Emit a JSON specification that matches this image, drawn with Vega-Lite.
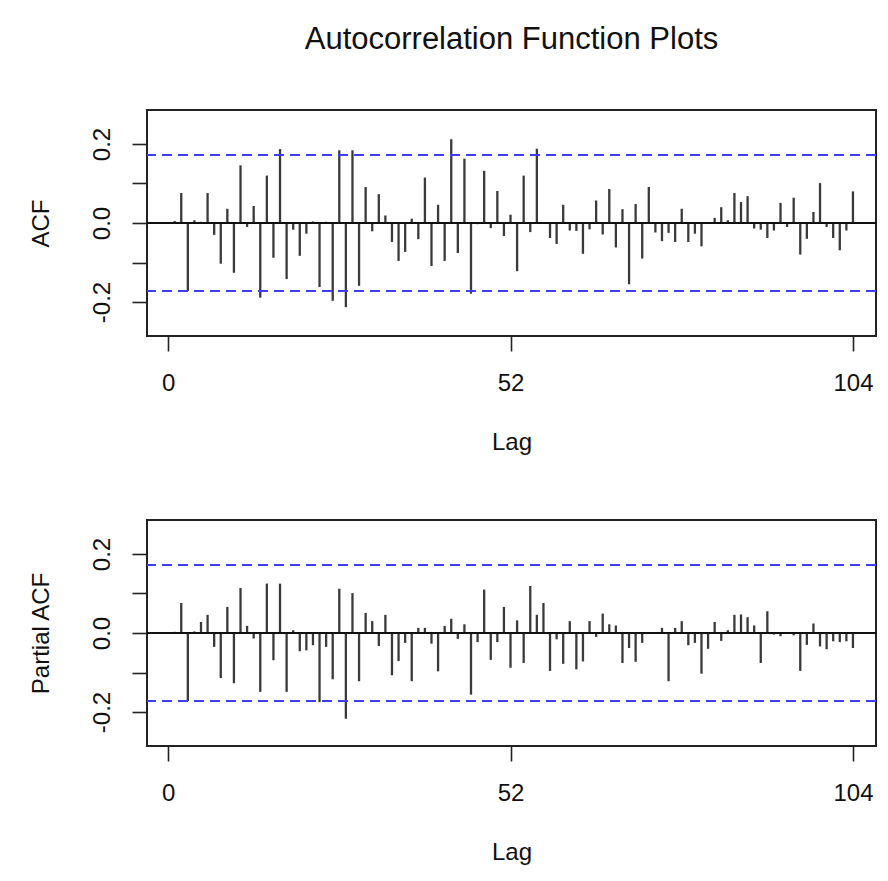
{
  "$schema": "https://vega.github.io/schema/vega-lite/v6.json",
  "background": "white",
  "padding": {"left": 28, "top": 23, "right": 13, "bottom": 5},
  "spacing": 64,
  "config": {
    "font": "Liberation Sans",
    "view": {"stroke": "#222", "strokeWidth": 2},
    "axis": {
      "grid": false,
      "domain": false,
      "tickColor": "#222",
      "tickWidth": 1.6,
      "tickSize": 15,
      "labelFont": "Liberation Sans",
      "labelFontSize": 24,
      "labelColor": "#111",
      "labelOverlap": false,
      "labelFlush": false,
      "labelBound": false,
      "titleFont": "Liberation Sans",
      "titleFontSize": 24,
      "titleFontWeight": "normal",
      "titleColor": "#111"
    }
  },
  "datasets": {
    "acf": [
      {"lag": 1, "v": 0.005}, {"lag": 2, "v": 0.076}, {"lag": 3, "v": -0.172}, {"lag": 4, "v": 0.007},
      {"lag": 5, "v": 0.003}, {"lag": 6, "v": 0.076}, {"lag": 7, "v": -0.03}, {"lag": 8, "v": -0.103},
      {"lag": 9, "v": 0.036}, {"lag": 10, "v": -0.126}, {"lag": 11, "v": 0.146}, {"lag": 12, "v": -0.01},
      {"lag": 13, "v": 0.043}, {"lag": 14, "v": -0.189}, {"lag": 15, "v": 0.12}, {"lag": 16, "v": -0.088},
      {"lag": 17, "v": 0.187}, {"lag": 18, "v": -0.142}, {"lag": 19, "v": -0.017}, {"lag": 20, "v": -0.083},
      {"lag": 21, "v": -0.027}, {"lag": 22, "v": 0.004}, {"lag": 23, "v": -0.162}, {"lag": 24, "v": 0.003},
      {"lag": 25, "v": -0.197}, {"lag": 26, "v": 0.184}, {"lag": 27, "v": -0.213}, {"lag": 28, "v": 0.184},
      {"lag": 29, "v": -0.159}, {"lag": 30, "v": 0.091}, {"lag": 31, "v": -0.021}, {"lag": 32, "v": 0.073},
      {"lag": 33, "v": 0.019}, {"lag": 34, "v": -0.048}, {"lag": 35, "v": -0.096}, {"lag": 36, "v": -0.073},
      {"lag": 37, "v": 0.011}, {"lag": 38, "v": -0.041}, {"lag": 39, "v": 0.115}, {"lag": 40, "v": -0.109},
      {"lag": 41, "v": 0.046}, {"lag": 42, "v": -0.096}, {"lag": 43, "v": 0.212}, {"lag": 44, "v": -0.076},
      {"lag": 45, "v": 0.163}, {"lag": 46, "v": -0.179}, {"lag": 47, "v": -0.003}, {"lag": 48, "v": 0.132},
      {"lag": 49, "v": -0.013}, {"lag": 50, "v": 0.081}, {"lag": 51, "v": -0.033}, {"lag": 52, "v": 0.021},
      {"lag": 53, "v": -0.122}, {"lag": 54, "v": 0.12}, {"lag": 55, "v": -0.023}, {"lag": 56, "v": 0.188},
      {"lag": 57, "v": -0.002}, {"lag": 58, "v": -0.038}, {"lag": 59, "v": -0.053}, {"lag": 60, "v": 0.046},
      {"lag": 61, "v": -0.019}, {"lag": 62, "v": -0.02}, {"lag": 63, "v": -0.078}, {"lag": 64, "v": -0.016},
      {"lag": 65, "v": 0.057}, {"lag": 66, "v": -0.029}, {"lag": 67, "v": 0.086}, {"lag": 68, "v": -0.062},
      {"lag": 69, "v": 0.035}, {"lag": 70, "v": -0.155}, {"lag": 71, "v": 0.048}, {"lag": 72, "v": -0.09},
      {"lag": 73, "v": 0.091}, {"lag": 74, "v": -0.024}, {"lag": 75, "v": -0.046}, {"lag": 76, "v": -0.025},
      {"lag": 77, "v": -0.048}, {"lag": 78, "v": 0.036}, {"lag": 79, "v": -0.048}, {"lag": 80, "v": -0.027},
      {"lag": 81, "v": -0.059}, {"lag": 82, "v": 0.002}, {"lag": 83, "v": 0.013}, {"lag": 84, "v": 0.04},
      {"lag": 85, "v": 0.007}, {"lag": 86, "v": 0.076}, {"lag": 87, "v": 0.053}, {"lag": 88, "v": 0.068},
      {"lag": 89, "v": -0.014}, {"lag": 90, "v": -0.017}, {"lag": 91, "v": -0.038}, {"lag": 92, "v": -0.019},
      {"lag": 93, "v": 0.051}, {"lag": 94, "v": -0.01}, {"lag": 95, "v": 0.064}, {"lag": 96, "v": -0.08},
      {"lag": 97, "v": -0.04}, {"lag": 98, "v": 0.028}, {"lag": 99, "v": 0.101}, {"lag": 100, "v": -0.01},
      {"lag": 101, "v": -0.038}, {"lag": 102, "v": -0.069}, {"lag": 103, "v": -0.019}, {"lag": 104, "v": 0.08}
    ],
    "pacf": [
      {"lag": 1, "v": 0.003}, {"lag": 2, "v": 0.076}, {"lag": 3, "v": -0.172}, {"lag": 4, "v": 0.004},
      {"lag": 5, "v": 0.028}, {"lag": 6, "v": 0.046}, {"lag": 7, "v": -0.035}, {"lag": 8, "v": -0.114},
      {"lag": 9, "v": 0.066}, {"lag": 10, "v": -0.127}, {"lag": 11, "v": 0.114}, {"lag": 12, "v": 0.018},
      {"lag": 13, "v": -0.014}, {"lag": 14, "v": -0.149}, {"lag": 15, "v": 0.125}, {"lag": 16, "v": -0.069},
      {"lag": 17, "v": 0.125}, {"lag": 18, "v": -0.149}, {"lag": 19, "v": 0.007}, {"lag": 20, "v": -0.046},
      {"lag": 21, "v": -0.044}, {"lag": 22, "v": -0.031}, {"lag": 23, "v": -0.175}, {"lag": 24, "v": -0.035},
      {"lag": 25, "v": -0.117}, {"lag": 26, "v": 0.112}, {"lag": 27, "v": -0.217}, {"lag": 28, "v": 0.101},
      {"lag": 29, "v": -0.122}, {"lag": 30, "v": 0.051}, {"lag": 31, "v": 0.03}, {"lag": 32, "v": -0.033},
      {"lag": 33, "v": 0.046}, {"lag": 34, "v": -0.107}, {"lag": 35, "v": -0.071}, {"lag": 36, "v": -0.025},
      {"lag": 37, "v": -0.122}, {"lag": 38, "v": 0.013}, {"lag": 39, "v": 0.013}, {"lag": 40, "v": -0.027},
      {"lag": 41, "v": -0.097}, {"lag": 42, "v": 0.018}, {"lag": 43, "v": 0.036}, {"lag": 44, "v": -0.015},
      {"lag": 45, "v": 0.022}, {"lag": 46, "v": -0.156}, {"lag": 47, "v": -0.023}, {"lag": 48, "v": 0.11},
      {"lag": 49, "v": -0.068}, {"lag": 50, "v": -0.023}, {"lag": 51, "v": 0.066}, {"lag": 52, "v": -0.088},
      {"lag": 53, "v": 0.032}, {"lag": 54, "v": -0.076}, {"lag": 55, "v": 0.119}, {"lag": 56, "v": 0.046},
      {"lag": 57, "v": 0.076}, {"lag": 58, "v": -0.096}, {"lag": 59, "v": -0.016}, {"lag": 60, "v": -0.078},
      {"lag": 61, "v": 0.03}, {"lag": 62, "v": -0.092}, {"lag": 63, "v": -0.072}, {"lag": 64, "v": 0.03},
      {"lag": 65, "v": -0.01}, {"lag": 66, "v": 0.049}, {"lag": 67, "v": 0.022}, {"lag": 68, "v": 0.019},
      {"lag": 69, "v": -0.076}, {"lag": 70, "v": -0.038}, {"lag": 71, "v": -0.073}, {"lag": 72, "v": -0.025},
      {"lag": 73, "v": 0.002}, {"lag": 74, "v": -0.002}, {"lag": 75, "v": 0.013}, {"lag": 76, "v": -0.122},
      {"lag": 77, "v": 0.013}, {"lag": 78, "v": 0.03}, {"lag": 79, "v": -0.031}, {"lag": 80, "v": -0.025},
      {"lag": 81, "v": -0.103}, {"lag": 82, "v": -0.04}, {"lag": 83, "v": 0.028}, {"lag": 84, "v": -0.02},
      {"lag": 85, "v": 0.007}, {"lag": 86, "v": 0.046}, {"lag": 87, "v": 0.047}, {"lag": 88, "v": 0.04},
      {"lag": 89, "v": 0.019}, {"lag": 90, "v": -0.076}, {"lag": 91, "v": 0.055}, {"lag": 92, "v": -0.004},
      {"lag": 93, "v": -0.008}, {"lag": 94, "v": -0.002}, {"lag": 95, "v": -0.006}, {"lag": 96, "v": -0.096},
      {"lag": 97, "v": -0.03}, {"lag": 98, "v": 0.024}, {"lag": 99, "v": -0.034}, {"lag": 100, "v": -0.041},
      {"lag": 101, "v": -0.021}, {"lag": 102, "v": -0.023}, {"lag": 103, "v": -0.021}, {"lag": 104, "v": -0.038}
    ],
    "ci": [{"ci": 0.172}, {"ci": -0.172}]
  },
  "vconcat": [
    {
      "width": 729,
      "height": 226,
      "title": {
        "text": "Autocorrelation Function Plots",
        "font": "Liberation Sans",
        "fontSize": 31,
        "fontWeight": "normal",
        "color": "#111",
        "anchor": "middle",
        "frame": "group",
        "baseline": "alphabetic",
        "offset": 30
      },
      "layer": [
        {
          "data": {"name": "acf"},
          "mark": {"type": "rule", "color": "#3a3a3a", "strokeWidth": 2.3},
          "encoding": {
            "x": {
              "field": "lag", "type": "quantitative", "title": "Lag",
              "scale": {"domain": [-3.2, 107.5], "nice": false, "zero": false},
              "axis": {"values": [0, 52, 104], "labelPadding": 20, "titleY": 113, "titleBaseline": "alphabetic"}
            },
            "y": {
              "field": "v", "type": "quantitative", "title": "ACF",
              "scale": {"domain": [-0.286, 0.286], "nice": false, "zero": false},
              "axis": {
                "values": [-0.2, -0.1, 0, 0.1, 0.2],
                "labelExpr": "datum.value == 0.2 ? '0.2' : datum.value == 0 ? '0.0' : datum.value == -0.2 ? '-0.2' : ''",
                "labelAngle": 270, "labelAlign": "center", "labelBaseline": "alphabetic", "labelPadding": 23,
                "titleAngle": 270, "titleX": -99, "titleY": 113, "titleAlign": "center", "titleBaseline": "alphabetic"
              }
            },
            "y2": {"datum": 0}
          }
        },
        {
          "data": {"name": "acf"},
          "mark": {"type": "rule", "color": "#111", "strokeWidth": 1.6},
          "encoding": {"y": {"datum": 0, "type": "quantitative", "title": "ACF"}}
        },
        {
          "data": {"name": "ci"},
          "mark": {"type": "rule", "color": "#3d3dff", "strokeWidth": 2, "strokeDash": [10, 6]},
          "encoding": {"y": {"field": "ci", "type": "quantitative", "title": "ACF"}}
        }
      ]
    },
    {
      "width": 729,
      "height": 226,
      "layer": [
        {
          "data": {"name": "pacf"},
          "mark": {"type": "rule", "color": "#3a3a3a", "strokeWidth": 2.3},
          "encoding": {
            "x": {
              "field": "lag", "type": "quantitative", "title": "Lag",
              "scale": {"domain": [-3.2, 107.5], "nice": false, "zero": false},
              "axis": {"values": [0, 52, 104], "labelPadding": 20, "titleY": 113, "titleBaseline": "alphabetic"}
            },
            "y": {
              "field": "v", "type": "quantitative", "title": "Partial ACF",
              "scale": {"domain": [-0.286, 0.286], "nice": false, "zero": false},
              "axis": {
                "values": [-0.2, -0.1, 0, 0.1, 0.2],
                "labelExpr": "datum.value == 0.2 ? '0.2' : datum.value == 0 ? '0.0' : datum.value == -0.2 ? '-0.2' : ''",
                "labelAngle": 270, "labelAlign": "center", "labelBaseline": "alphabetic", "labelPadding": 23,
                "titleAngle": 270, "titleX": -99, "titleY": 113, "titleAlign": "center", "titleBaseline": "alphabetic"
              }
            },
            "y2": {"datum": 0}
          }
        },
        {
          "data": {"name": "pacf"},
          "mark": {"type": "rule", "color": "#111", "strokeWidth": 1.6},
          "encoding": {"y": {"datum": 0, "type": "quantitative", "title": "Partial ACF"}}
        },
        {
          "data": {"name": "ci"},
          "mark": {"type": "rule", "color": "#3d3dff", "strokeWidth": 2, "strokeDash": [10, 6]},
          "encoding": {"y": {"field": "ci", "type": "quantitative", "title": "Partial ACF"}}
        }
      ]
    }
  ]
}
